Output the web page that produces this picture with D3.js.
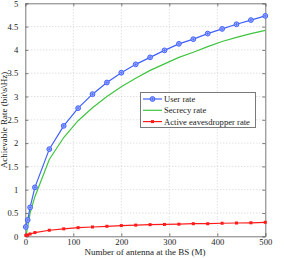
<!DOCTYPE html>
<html>
<head>
<meta charset="utf-8">
<script src="https://cdn.jsdelivr.net/npm/d3@7"></script>
<style>
  body { margin: 0; background: #fff; }
  text { font-family: "Liberation Serif", "DejaVu Serif", serif; }
</style>
</head>
<body>
<svg id="chart" width="284" height="258"></svg>
<script>
// nombre d'antennes
var antennes = [1, 5, 10, 20, 50, 80, 110, 140, 170, 200, 230, 260, 290, 320, 350, 380, 410, 440, 470, 500];
var userRate = [0.2, 0.35, 0.62, 1.05, 1.87, 2.37, 2.75, 3.05, 3.30, 3.51, 3.69, 3.84, 3.99, 4.13, 4.23, 4.35, 4.45, 4.55, 4.64, 4.73];
var secrecyRate = [0, 0.2, 0.5, 0.85, 1.65, 2.12, 2.48, 2.76, 3.0, 3.21, 3.39, 3.56, 3.70, 3.84, 3.95, 4.07, 4.18, 4.27, 4.35, 4.42];
var eveRate = [0.02, 0.03, 0.05, 0.08, 0.13, 0.16, 0.185, 0.2, 0.215, 0.23, 0.24, 0.25, 0.255, 0.26, 0.27, 0.27, 0.28, 0.285, 0.29, 0.3];
var xTicks = [0, 100, 200, 300, 400, 500];
var yTicks = [0, 0.5, 1, 1.5, 2, 2.5, 3, 3.5, 4, 4.5, 5];
var legendLabels = ["User rate", "Secrecy rate", "Active eavesdropper rate"];

var svg = d3.select("#chart");
var mLeft = 25.3, mRight = 265.3, mTop = 3.3, mBottom = 236.3;

var xScale = d3.scaleLinear().domain([0, 500]).range([mLeft, mRight]);
var yScale = d3.scaleLinear().domain([0, 5]).range([mBottom, mTop]);

var blue = "#4060ff", green = "#40c440", red = "#ff1a1a";

/* grille pointillée */
svg.append("g").selectAll("line")
    .data(xTicks.slice(1, -1))
    .enter().append("line")
    .attr("x1", d => xScale(d)).attr("x2", d => xScale(d))
    .attr("y1", mTop).attr("y2", mBottom)
    .attr("stroke", "#c8c8c8").attr("stroke-width", 0.8)
    .attr("stroke-dasharray", "1,2");
svg.append("g").selectAll("line")
    .data(yTicks.slice(1, -1))
    .enter().append("line")
    .attr("x1", mLeft).attr("x2", mRight)
    .attr("y1", d => yScale(d)).attr("y2", d => yScale(d))
    .attr("stroke", "#c8c8c8").attr("stroke-width", 0.8)
    .attr("stroke-dasharray", "1,2");

/* axes (ticks vers l'intérieur) */
svg.append("g").attr("transform", "translate(0," + mBottom + ")")
    .call(d3.axisBottom(xScale).tickValues(xTicks).tickSize(-3).tickPadding(3));
svg.append("g").attr("transform", "translate(" + mLeft + ",0)")
    .call(d3.axisLeft(yScale).tickValues(yTicks).tickSize(-3).tickPadding(7).tickFormat(d3.format("")));
svg.append("g").attr("transform", "translate(0," + mTop + ")")
    .call(d3.axisTop(xScale).tickValues(xTicks).tickSize(-3).tickFormat(""));
svg.append("g").attr("transform", "translate(" + mRight + ",0)")
    .call(d3.axisRight(yScale).tickValues(yTicks).tickSize(-3).tickFormat(""));
svg.selectAll(".domain").attr("stroke", "#7a7a7a");
svg.selectAll(".tick line").attr("stroke", "#7a7a7a");
svg.selectAll(".tick text").attr("font-family", "Liberation Serif").attr("font-size", 8.6).attr("fill", "#222");

/* titres des axes */
svg.append("text")
    .attr("x", 145).attr("y", 255)
    .attr("text-anchor", "middle").attr("font-size", 9).attr("fill", "#222")
    .text("Number of antenna at the BS (M)");
svg.append("text")
    .attr("transform", "translate(7,120) rotate(-90)")
    .attr("text-anchor", "middle").attr("font-size", 9).attr("fill", "#222")
    .text("Achievable Rate (bit\\s\\Hz)");

/* courbes */
var line = d3.line().x((d, i) => xScale(antennes[i])).y(d => yScale(d));
svg.append("path").datum(secrecyRate).attr("d", line)
    .attr("fill", "none").attr("stroke", green).attr("stroke-width", 1.2);
svg.append("path").datum(eveRate).attr("d", line)
    .attr("fill", "none").attr("stroke", red).attr("stroke-width", 1.2);
svg.append("path").datum(userRate).attr("d", line)
    .attr("fill", "none").attr("stroke", blue).attr("stroke-width", 1.2);

/* marqueurs */
function rond(g, x, y) {
    g.append("circle").attr("cx", x).attr("cy", y).attr("r", 2.4)
        .attr("fill", "#aab8ff").attr("stroke", blue).attr("stroke-width", 1);
    g.append("path").attr("d", "M" + (x - 1.5) + "," + y + "h3M" + x + "," + (y - 1.5) + "v3")
        .attr("stroke", blue).attr("stroke-width", 0.7);
}
function carre(g, x, y) {
    g.append("rect").attr("x", x - 1.5).attr("y", y - 1.5).attr("width", 3).attr("height", 3)
        .attr("fill", red);
}
var gm = svg.append("g");
userRate.forEach((d, i) => rond(gm, xScale(antennes[i]), yScale(d)));
eveRate.forEach((d, i) => carre(gm, xScale(antennes[i]), yScale(d)));

/* légende */
var leg = svg.append("g");
leg.append("rect").attr("x", 140.5).attr("y", 92.5).attr("width", 115).attr("height", 35)
    .attr("fill", "#fff").attr("stroke", "#7a7a7a").attr("stroke-width", 1);
var couleurs = [blue, green, red];
legendLabels.forEach(function (lab, i) {
    var y = 99 + i * 11.3;
    leg.append("line").attr("x1", 143).attr("x2", 162).attr("y1", y).attr("y2", y)
        .attr("stroke", couleurs[i]).attr("stroke-width", 1.2);
    if (i === 0) rond(leg, 152.5, y);
    if (i === 2) carre(leg, 152.5, y);
    leg.append("text").attr("x", 164).attr("y", y + 3)
        .attr("font-size", 8.6).attr("fill", "#222").text(lab);
});
</script>
</body>
</html>
